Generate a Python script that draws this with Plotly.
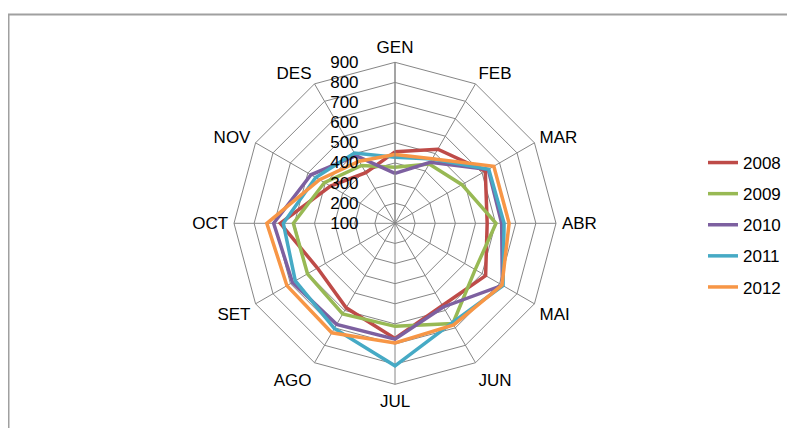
import plotly.graph_objects as go

# Catalan month labels (categories)
months = ['GEN', 'FEB', 'MAR', 'ABR', 'MAI', 'JUN', 'JUL', 'AGO', 'SET', 'OCT', 'NOV', 'DES']

# Values per year
y2008 = [455, 525, 618, 558, 620, 572, 672, 585, 545, 670, 470, 390]
y2009 = [378, 440, 484, 602, 560, 675, 612, 620, 602, 605, 505, 432]
y2010 = [348, 450, 635, 630, 716, 580, 676, 680, 688, 703, 582, 488]
y2011 = [428, 469, 638, 642, 720, 670, 808, 703, 672, 655, 555, 503]
y2012 = [442, 471, 667, 667, 714, 683, 695, 728, 720, 737, 533, 456]

years = ['2008', '2009', '2010', '2011', '2012']
series = [y2008, y2009, y2010, y2011, y2012]
colors = ['#BE4B48', '#98B954', '#7D60A0', '#46AAC5', '#F79646']

fig = go.Figure()

# one closed line per year
for name, vals, col in zip(years, series, colors):
    fig.add_trace(go.Scatterpolar(
        r=vals + vals[:1],
        theta=months + months[:1],
        mode='lines',
        name=name,
        legendgroup=name,
        line=dict(color=col, width=3.5),
    ))

# the page body has an 8px margin, so work in page pixels minus 8
OFF = 8
W, H = 795 - OFF, 428 - OFF
cx, cy, rad = 395 - OFF, 223.3 - OFF, 161

fig.update_layout(
    width=W, height=H,
    margin=dict(l=0, r=0, t=0, b=0),
    paper_bgcolor='white',
    font=dict(family='Liberation Sans, Arial, sans-serif', size=17, color='#000000'),
    showlegend=True,
    legend=dict(
        x=(703 - OFF) / W, xanchor='left',
        y=(H - (225 - OFF)) / H, yanchor='middle',
        font=dict(size=17),
        tracegroupgap=6,
        bgcolor='rgba(0,0,0,0)',
    ),
    polar=dict(
        domain=dict(x=[(cx - rad) / W, (cx + rad) / W],
                    y=[(H - cy - rad) / H, (H - cy + rad) / H]),
        bgcolor='white',
        gridshape='linear',
        radialaxis=dict(
            range=[100, 900],
            tickvals=[100, 200, 300, 400, 500, 600, 700, 800, 900],
            angle=90,
            side='counterclockwise',
            tickangle=90,
            layer='above traces',
            # invisible ticks push the labels away from the axis line
            ticks='outside', ticklen=30, tickcolor='rgba(0,0,0,0)',
            showline=True, linecolor='#868686', linewidth=1,
            gridcolor='#868686', gridwidth=1,
            tickfont=dict(size=17),
        ),
        angularaxis=dict(
            rotation=90,
            direction='clockwise',
            showline=True, linecolor='#868686', linewidth=1,
            gridcolor='#868686', gridwidth=1,
            ticks='outside', ticklen=2, tickcolor='rgba(0,0,0,0)',
            tickfont=dict(size=17),
        ),
    ),
    shapes=[dict(
        type='rect', xref='paper', yref='paper',
        x0=(8.5 - OFF) / W, x1=1.02, y0=-0.02, y1=(H - (14.5 - OFF)) / H,
        line=dict(color='#a0a0a0', width=2),
    )],
)

fig.write_html('out.html')
